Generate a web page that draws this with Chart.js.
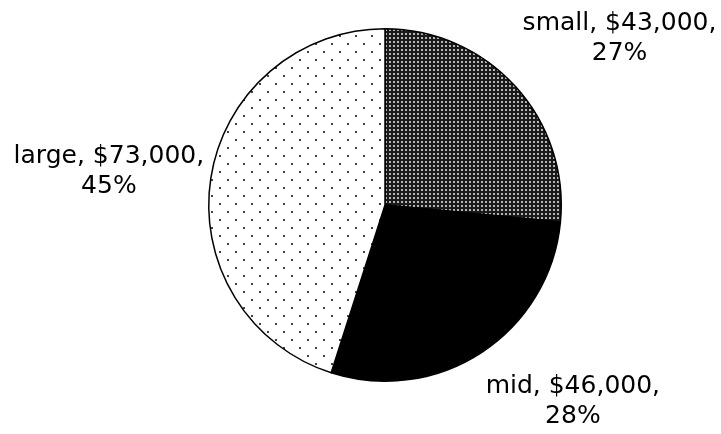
<!DOCTYPE html>
<html><head><meta charset="utf-8">
<script src="https://cdn.jsdelivr.net/npm/chart.js@4/dist/chart.umd.min.js"></script>
<style>html,body{margin:0;padding:0;background:#fff}#wrap{width:721px;height:434px}</style>
</head><body><div id="wrap"><canvas id="c" width="721" height="434"></canvas></div>
<script>
const categories = ["small", "mid", "large"];
const values = [43000, 46000, 73000];

function densePattern(){
  const p = document.createElement('canvas'); p.width = 4; p.height = 4;
  const g = p.getContext('2d');
  g.fillStyle = '#1a1a1a'; g.fillRect(0,0,4,4);
  g.fillStyle = '#b5b5b5'; g.fillRect(1,1,2,2);
  return g.createPattern(p,'repeat');
}
function dotPattern(){
  const p = document.createElement('canvas'); p.width = 16; p.height = 16;
  const g = p.getContext('2d');
  g.fillStyle = '#ffffff'; g.fillRect(0,0,16,16);
  g.fillStyle = '#444444';
  g.fillRect(3,3,2,2); g.fillRect(11,11,2,2);
  return g.createPattern(p,'repeat');
}
const fills = [densePattern(), '#000000', dotPattern()];

const total = values.reduce((a,b)=>a+b,0);
const fmt = v => '$' + v.toLocaleString('en-US');

// label block centre offset from the outer arc point at each slice's mid-angle
const labelOffsets = [[104, -48], [91, 49], [-102, -6]];

const labelPlugin = {
  id: 'outLabels',
  afterDatasetsDraw(chart){
    const c = chart.ctx;
    const meta = chart.getDatasetMeta(0);
    c.save();
    c.font = '25px "DejaVu Sans", Verdana, sans-serif';
    c.fillStyle = '#000';
    c.textAlign = 'center';
    c.textBaseline = 'middle';
    meta.data.forEach((arc, i) => {
      const mid = (arc.startAngle + arc.endAngle) / 2;
      const px = arc.x + Math.cos(mid) * arc.outerRadius;
      const py = arc.y + Math.sin(mid) * arc.outerRadius;
      const cx = px + labelOffsets[i][0];
      const cy = py + labelOffsets[i][1];
      const pct = Math.round(values[i] / total * 100) + '%';
      c.fillText(categories[i] + ', ' + fmt(values[i]) + ',', cx, cy - 15);
      c.fillText(pct, cx, cy + 15);
    });
    c.restore();
  }
};

new Chart(document.getElementById('c'), {
  type: 'pie',
  data: {
    labels: categories,
    datasets: [{
      data: values,
      backgroundColor: fills,
      borderColor: '#000',
      borderWidth: 1.5
    }]
  },
  options: {
    responsive: false,
    animation: false,
    layout: { padding: { left: 208, right: 159, top: 28, bottom: 52 } },
    plugins: { legend: { display: false }, tooltip: { enabled: false } }
  },
  plugins: [labelPlugin]
});
</script></body></html>
